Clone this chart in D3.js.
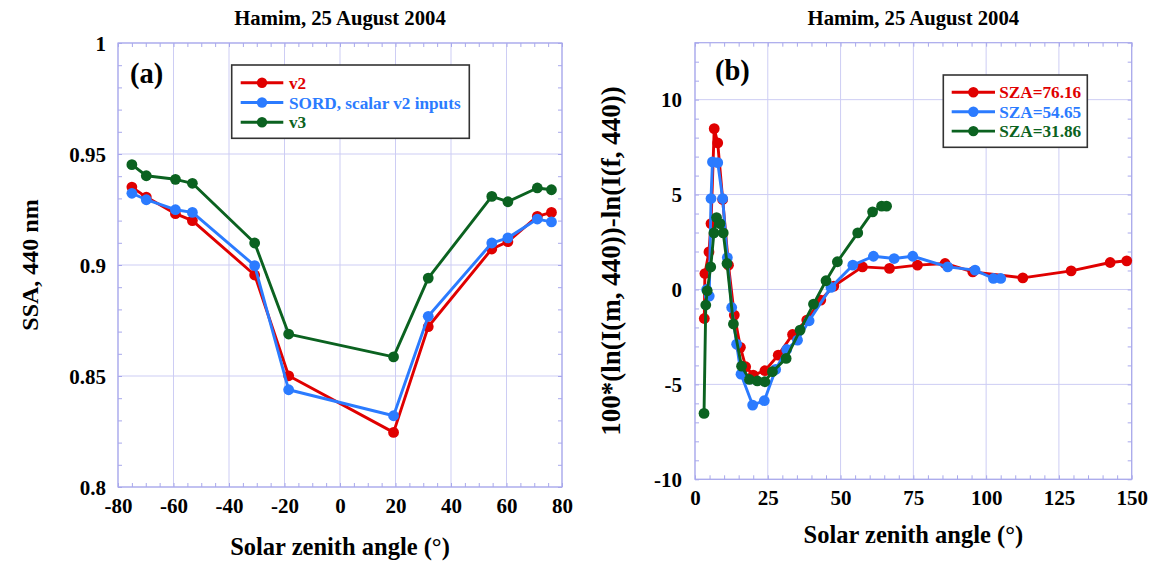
<!DOCTYPE html>
<html>
<head>
<meta charset="utf-8">
<script src="https://cdn.jsdelivr.net/npm/d3@7"></script>
<style>
  html, body { margin: 0; padding: 0; background: #ffffff; }
  svg { display: block; }
  text { font-family: "Liberation Serif", "Times New Roman", serif; font-weight: bold; }
</style>
</head>
<body>
<svg id="chart" width="1151" height="561"></svg>
<script>
// ---------------- Panel (a) data ----------------
const titleText = "Hamim, 25 August 2004";
const anglesA = [-75, -69.8, -59.3, -53.2, -30.75, -18.5, 19.3, 31.8, 54.7, 60.5, 71.1, 76.2];
const ssaV2   = [0.9351, 0.9306, 0.9231, 0.9200, 0.8955, 0.8501, 0.8246, 0.8722, 0.9072, 0.9105, 0.9219, 0.9237];
const ssaSord = [0.9323, 0.9294, 0.9249, 0.9237, 0.8997, 0.8438, 0.8321, 0.8769, 0.9099, 0.9122, 0.9207, 0.9194];
const ssaV3   = [0.9452, 0.9402, 0.9386, 0.9368, 0.9099, 0.8689, 0.8586, 0.8941, 0.9309, 0.9285, 0.9347, 0.9339];
const seriesNamesA = ["v2", "SORD, scalar v2 inputs", "v3"];
const xTicksA = [-80, -60, -40, -20, 0, 20, 40, 60, 80];
const xTickLabelsA = ["-80", "-60", "-40", "-20", "0", "20", "40", "60", "80"];
const yTicksA = [0.8, 0.85, 0.9, 0.95, 1];
const yTickLabelsA = ["0.8", "0.85", "0.9", "0.95", "1"];

// ---------------- Panel (b) data ----------------
const sza76x = [3.2, 3.4, 4.8, 5.5, 6.6, 7.8, 9.5, 11.5, 13.5, 15.6, 17.4, 20.0, 24.0, 28.6, 33.5, 38.4, 43.2, 47.7, 57.5, 66.8, 76.4, 85.9, 95.4, 112.6, 129.2, 142.6, 148.3];
const sza76y = [-1.53, 0.84, 1.98, 3.47, 8.47, 7.72, 4.74, 1.28, -1.35, -3.05, -4.07, -4.51, -4.28, -3.46, -2.37, -1.61, -0.56, 0.18, 1.19, 1.11, 1.28, 1.37, 0.93, 0.61, 0.98, 1.42, 1.51];
const sza54x = [4.0, 4.9, 5.5, 6.0, 7.8, 9.5, 11.1, 12.6, 14.3, 15.8, 19.8, 23.8, 27.7, 31.5, 35.2, 39.2, 46.7, 54.2, 61.3, 68.4, 74.8, 86.8, 96.2, 102.5, 105.0];
const sza54y = [0.0, -0.35, 4.79, 6.72, 6.68, 4.79, 1.68, -0.95, -2.88, -4.46, -6.09, -5.86, -4.21, -3.16, -2.67, -1.65, 0.11, 1.28, 1.75, 1.63, 1.75, 1.19, 1.02, 0.58, 0.58];
const sza31x = [3.1, 3.7, 4.2, 5.4, 6.5, 7.4, 8.6, 9.7, 11.0, 13.2, 16.0, 18.7, 21.4, 24.0, 26.6, 31.3, 36.1, 40.7, 45.0, 48.9, 55.9, 61.0, 64.1, 65.8];
const sza31y = [-6.53, -0.82, -0.07, 1.19, 2.98, 3.79, 3.47, 2.98, 1.37, -1.82, -4.04, -4.74, -4.82, -4.86, -4.33, -3.63, -2.14, -0.77, 0.46, 1.46, 2.98, 4.09, 4.39, 4.39];
const seriesNamesB = ["SZA=76.16", "SZA=54.65", "SZA=31.86"];
const xTicksB = [0, 25, 50, 75, 100, 125, 150];
const xTickLabelsB = ["0", "25", "50", "75", "100", "125", "150"];
const yTicksB = [-10, -5, 0, 5, 10];
const yTickLabelsB = ["-10", "-5", "0", "5", "10"];

// ---------------- Styles ----------------
const COLORS = ["#e00000", "#2b7bff", "#0b6220"];
const GRID = "#cdcdf4";
const FRAME = "#a8a8ec";

const svg = d3.select("#chart");
svg.append("rect").attr("width", 1151).attr("height", 561).attr("fill", "#ffffff");

function drawPanel(cfg) {
  const x = d3.scaleLinear().domain(cfg.xDomain).range([cfg.left, cfg.right]);
  const y = d3.scaleLinear().domain(cfg.yDomain).range([cfg.bottom, cfg.top]);
  const g = svg.append("g");

  // gridlines
  g.append("g").selectAll("line.vx").data(cfg.xTicks).enter().append("line")
    .attr("x1", d => x(d)).attr("x2", d => x(d)).attr("y1", cfg.top).attr("y2", cfg.bottom)
    .attr("stroke", GRID).attr("stroke-width", 1);
  g.append("g").selectAll("line.hy").data(cfg.yTicks).enter().append("line")
    .attr("x1", cfg.left).attr("x2", cfg.right).attr("y1", d => y(d)).attr("y2", d => y(d))
    .attr("stroke", GRID).attr("stroke-width", 1);

  // minor inward ticks on all four sides
  const tl = 4;
  const minorX = d3.range(cfg.xDomain[0], cfg.xDomain[1] + 1e-9, cfg.xMinor);
  const minorY = d3.range(0, Math.round((cfg.yDomain[1] - cfg.yDomain[0]) / cfg.yMinor) + 1).map(i => cfg.yDomain[0] + i * cfg.yMinor);
  const styleAxis = sel => { sel.select(".domain").remove(); sel.selectAll("line").attr("stroke", FRAME); sel.selectAll("text").remove(); };
  g.append("g").attr("transform", `translate(0,${cfg.bottom})`).call(d3.axisBottom(x).tickValues(minorX).tickSize(-tl)).call(styleAxis);
  g.append("g").attr("transform", `translate(0,${cfg.top})`).call(d3.axisTop(x).tickValues(minorX).tickSize(-tl)).call(styleAxis);
  g.append("g").attr("transform", `translate(${cfg.left},0)`).call(d3.axisLeft(y).tickValues(minorY).tickSize(-tl)).call(styleAxis);
  g.append("g").attr("transform", `translate(${cfg.right},0)`).call(d3.axisRight(y).tickValues(minorY).tickSize(-tl)).call(styleAxis);

  // frame
  g.append("rect").attr("x", cfg.left).attr("y", cfg.top)
    .attr("width", cfg.right - cfg.left).attr("height", cfg.bottom - cfg.top)
    .attr("fill", "none").attr("stroke", FRAME).attr("stroke-width", 1.2);

  // tick labels via axes
  const ax = g.append("g").attr("transform", `translate(0,${cfg.bottom})`)
    .call(d3.axisBottom(x).tickValues(cfg.xTicks).tickSize(0).tickFormat((d, i) => cfg.xTickLabels[i]));
  ax.select(".domain").remove();
  ax.selectAll("text").attr("y", 26).attr("dy", null)
    .attr("font-family", "Liberation Serif").attr("font-weight", "bold").attr("font-size", 21).attr("fill", "#000");
  const ay = g.append("g").attr("transform", `translate(${cfg.left},0)`)
    .call(d3.axisLeft(y).tickValues(cfg.yTicks).tickSize(0).tickPadding(cfg.yPad).tickFormat((d, i) => cfg.yTickLabels[i]));
  ay.select(".domain").remove();
  ay.selectAll("text").attr("dy", "0.34em")
    .attr("font-family", "Liberation Serif").attr("font-weight", "bold").attr("font-size", 21).attr("fill", "#000");

  // title
  g.append("text").attr("x", (cfg.left + cfg.right) / 2).attr("y", 24.5)
    .attr("text-anchor", "middle").attr("font-size", 20.7).text(titleText);
  // axis titles
  g.append("text").attr("x", (cfg.left + cfg.right) / 2).attr("y", cfg.xTitleY)
    .attr("text-anchor", "middle").attr("font-size", 24.5).text("Solar zenith angle (°)");
  g.append("text").attr("transform", `translate(${cfg.yTitleX},${(cfg.top + cfg.bottom) / 2}) rotate(-90)`)
    .attr("text-anchor", "middle").attr("font-size", cfg.yTitleSize).text(cfg.yTitle);
  // panel label
  g.append("text").attr("x", cfg.labelX).attr("y", cfg.labelY).attr("font-size", 28.5).text(cfg.label);

  // series
  const line = d3.line().x(d => x(d[0])).y(d => y(d[1]));
  cfg.series.forEach((s, k) => {
    const pts = s.xs.map((v, i) => [v, s.ys[i]]);
    g.append("path").datum(pts).attr("d", line).attr("fill", "none")
      .attr("stroke", COLORS[k]).attr("stroke-width", 2.9).attr("stroke-linejoin", "round");
    g.append("g").selectAll("circle").data(pts).enter().append("circle")
      .attr("cx", d => x(d[0])).attr("cy", d => y(d[1])).attr("r", 5.4).attr("fill", COLORS[k]);
  });

  // legend
  const L = cfg.legend;
  g.append("rect").attr("x", L.x).attr("y", L.y).attr("width", L.w).attr("height", L.h)
    .attr("fill", "#ffffff").attr("stroke", "#333333").attr("stroke-width", 1.6);
  cfg.series.forEach((s, k) => {
    const yy = L.row0 + k * L.step;
    g.append("line").attr("x1", L.lx1).attr("x2", L.lx2).attr("y1", yy).attr("y2", yy)
      .attr("stroke", COLORS[k]).attr("stroke-width", 2.9);
    g.append("circle").attr("cx", (L.lx1 + L.lx2) / 2).attr("cy", yy).attr("r", 5.2).attr("fill", COLORS[k]);
    g.append("text").attr("x", L.tx).attr("y", yy).attr("dy", "0.35em").attr("font-size", 17.2)
      .attr("fill", COLORS[k]).text(s.name);
  });
}

drawPanel({
  left: 118, right: 562, top: 43, bottom: 487,
  xDomain: [-80, 80], yDomain: [0.8, 1],
  xMinor: 5, yMinor: 0.01,
  xTicks: xTicksA, xTickLabels: xTickLabelsA, yTicks: yTicksA, yTickLabels: yTickLabelsA,
  yPad: 12, xTitleY: 555, yTitleX: 38, yTitle: "SSA, 440 nm", yTitleSize: 24,
  label: "(a)", labelX: 130, labelY: 83,
  series: [
    { name: seriesNamesA[0], xs: anglesA, ys: ssaV2 },
    { name: seriesNamesA[1], xs: anglesA, ys: ssaSord },
    { name: seriesNamesA[2], xs: anglesA, ys: ssaV3 }
  ],
  legend: { x: 231.7, y: 65, w: 237.6, h: 73.3, row0: 82.7, step: 19.8, lx1: 240.7, lx2: 283.3, tx: 289 }
});

drawPanel({
  left: 695, right: 1131.7, top: 42.7, bottom: 479.3,
  xDomain: [0, 150], yDomain: [-10, 13],
  xMinor: 5, yMinor: 1,
  xTicks: xTicksB, xTickLabels: xTickLabelsB, yTicks: yTicksB, yTickLabels: yTickLabelsB,
  yPad: 13, xTitleY: 543, yTitleX: 620, yTitle: "100*(ln(I(m, 440))-ln(I(f, 440))", yTitleSize: 27,
  label: "(b)", labelX: 715, labelY: 80,
  series: [
    { name: seriesNamesB[0], xs: sza76x, ys: sza76y },
    { name: seriesNamesB[1], xs: sza54x, ys: sza54y },
    { name: seriesNamesB[2], xs: sza31x, ys: sza31y }
  ],
  legend: { x: 943.3, y: 75, w: 144, h: 72.3, row0: 92.3, step: 19.4, lx1: 951.7, lx2: 995, tx: 999.3 }
});
</script>
</body>
</html>
